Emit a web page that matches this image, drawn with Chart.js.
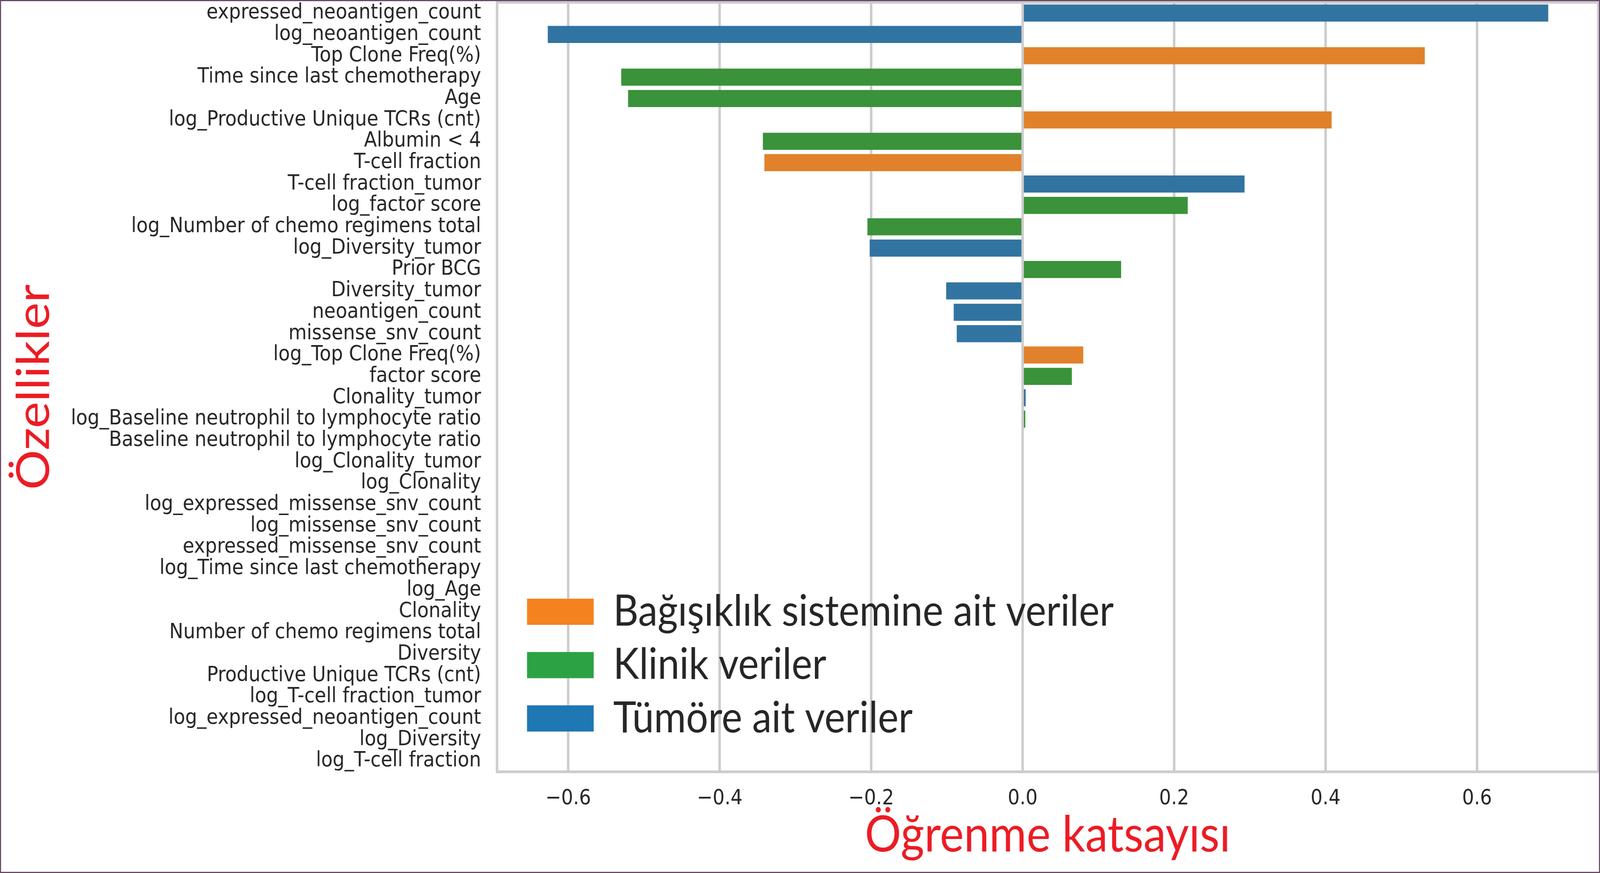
<!DOCTYPE html>
<html>
<head>
<meta charset="utf-8">
<script src="https://cdn.jsdelivr.net/npm/chart.js@4/dist/chart.umd.min.js"></script>
<style>
  html, body { margin: 0; padding: 0; background: #ffffff; overflow: hidden; }
  #c { display: block; }
</style>
</head>
<body>
<canvas id="c" width="4510" height="2234"></canvas>
<script>
// ---------- data ----------
const features = [
  "expressed_neoantigen_count",
  "log_neoantigen_count",
  "Top Clone Freq(%)",
  "Time since last chemotherapy",
  "Age",
  "log_Productive Unique TCRs (cnt)",
  "Albumin < 4",
  "T-cell fraction",
  "T-cell fraction_tumor",
  "log_factor score",
  "log_Number of chemo regimens total",
  "log_Diversity_tumor",
  "Prior BCG",
  "Diversity_tumor",
  "neoantigen_count",
  "missense_snv_count",
  "log_Top Clone Freq(%)",
  "factor score",
  "Clonality_tumor",
  "log_Baseline neutrophil to lymphocyte ratio",
  "Baseline neutrophil to lymphocyte ratio",
  "log_Clonality_tumor",
  "log_Clonality",
  "log_expressed_missense_snv_count",
  "log_missense_snv_count",
  "expressed_missense_snv_count",
  "log_Time since last chemotherapy",
  "log_Age",
  "Clonality",
  "Number of chemo regimens total",
  "Diversity",
  "Productive Unique TCRs (cnt)",
  "log_T-cell fraction_tumor",
  "log_expressed_neoantigen_count",
  "log_Diversity",
  "log_T-cell fraction"
];

const coefficients = [
  0.694, -0.627, 0.531, -0.530, -0.521, 0.408, -0.343, -0.341, 0.293, 0.218,
  -0.205, -0.202, 0.130, -0.101, -0.091, -0.087, 0.080, 0.065, 0.004, 0.0035,
  0, 0, 0, 0, 0, 0, 0, 0, 0, 0,
  0, 0, 0, 0, 0, 0
];

// 0 = immune system, 1 = clinical, 2 = tumour
const groups = [
  2, 2, 0, 1, 1, 0, 1, 0, 2, 1,
  1, 2, 1, 2, 2, 2, 0, 1, 2, 1,
  1, 2, 0, 2, 2, 2, 1, 1, 0, 1,
  0, 0, 2, 2, 0, 0
];

const groupNames = ["Bağışıklık sistemine ait veriler", "Klinik veriler", "Tümöre ait veriler"];
const barColors = ["#e1812c", "#3a923a", "#3274a1"];
const legendColors = ["#f58220", "#2ca244", "#1f77b4"];

const xTicks = [-0.6, -0.4, -0.2, 0.0, 0.2, 0.4, 0.6];
const xMin = -0.694;
const xMax = 0.760;

const xTitle = "Öğrenme katsayısı";
const yTitle = "Özellikler";

// ---------- canvas sizing: full 4510x2234 drawing fitted to the viewport ----------
const W = 4510, H = 2234;
const canvas = document.getElementById('c');
canvas.width = W;
canvas.height = H;
canvas.style.width = (window.innerWidth || W) + 'px';
canvas.style.height = (window.innerHeight || H) + 'px';

// ---------- chart ----------
const datasets = groupNames.map((name, g) => ({
  label: name,
  data: coefficients.map((v, i) => (groups[i] === g ? v : null)),
  backgroundColor: barColors[g],
  borderWidth: 0,
  grouped: false,
  barPercentage: 0.8,
  categoryPercentage: 1.0
}));

const frame = {
  id: 'frame',
  afterDatasetsDraw(chart) {
    const {ctx, chartArea: a} = chart;
    ctx.save();
    ctx.strokeStyle = '#cccccc';
    ctx.lineWidth = 7;
    ctx.strokeRect(a.left, a.top, a.right - a.left, a.bottom - a.top);
    ctx.restore();
  },
  afterDraw(chart) {
    const ctx = chart.ctx;
    ctx.save();
    ctx.strokeStyle = '#6a4a66';
    ctx.lineWidth = 3;
    ctx.strokeRect(1.5, 1.5, chart.width - 3, chart.height - 3);
    ctx.restore();
  }
};

const legendPlace = {
  id: 'legendPlace',
  afterLayout(chart) {
    const l = chart.legend;
    const a = chart.chartArea;
    if (!l) return;
    l.left = a.left + 58;
    l.right = l.left + l.width;
    l.bottom = a.bottom - 55;
  }
};

const titleFont = { family: "Lato, 'Noto Sans', sans-serif", size: 128, lineHeight: 1.2 };
const tickFont = { family: "'DejaVu Sans', sans-serif", size: 53, lineHeight: 1.2 };

new Chart(canvas, {
  type: 'bar',
  data: { labels: features, datasets },
  plugins: [frame, legendPlace],
  options: {
    indexAxis: 'y',
    responsive: false,
    devicePixelRatio: 1,
    animation: false,
    layout: { padding: { left: 0, top: 6, right: 5, bottom: 0 } },
    plugins: {
      tooltip: { enabled: false },
      legend: {
        position: 'chartArea',
        align: 'end',
        labels: {
          boxWidth: 188,
          boxHeight: 67,
          padding: 26.5,
          color: '#262626',
          font: { family: "Lato, 'Noto Sans', sans-serif", size: 110 },
          generateLabels(chart) {
            return Chart.defaults.plugins.legend.labels.generateLabels(chart).map((it, i) => ({
              ...it, fillStyle: legendColors[i], strokeStyle: legendColors[i], lineWidth: 0, fontColor: '#262626'
            }));
          }
        }
      }
    },
    scales: {
      x: {
        type: 'linear',
        min: xMin,
        max: xMax,
        afterFit(s) { s.height = 259; s.paddingLeft = 0; s.paddingRight = 0; },
        afterBuildTicks(s) { s.ticks = xTicks.map(v => ({ value: v })); },
        ticks: {
          includeBounds: false,
          padding: 37,
          color: '#262626',
          font: tickFont,
          callback(v) {
            if (Math.abs(v) < 1e-9) return '0.0';
            return (v < 0 ? '\u2212' : '') + Math.abs(v).toFixed(1);
          }
        },
        grid: { color: '#cccccc', lineWidth: 7, drawTicks: false },
        border: { display: false },
        title: {
          display: true,
          text: xTitle,
          color: '#ec1c24',
          font: titleFont,
          padding: { top: 0, bottom: 19 }
        }
      },
      y: {
        type: 'category',
        afterFit(s) { s.width = 1401; s.paddingTop = 0; s.paddingBottom = 0; },
        ticks: {
          autoSkip: false,
          padding: 45,
          color: '#262626',
          font: tickFont
        },
        grid: { display: false, drawTicks: false },
        border: { display: false },
        title: {
          display: true,
          text: yTitle,
          color: '#ec1c24',
          font: titleFont,
          padding: { top: 20, bottom: 0 }
        }
      }
    }
  }
});
</script>
</body>
</html>
